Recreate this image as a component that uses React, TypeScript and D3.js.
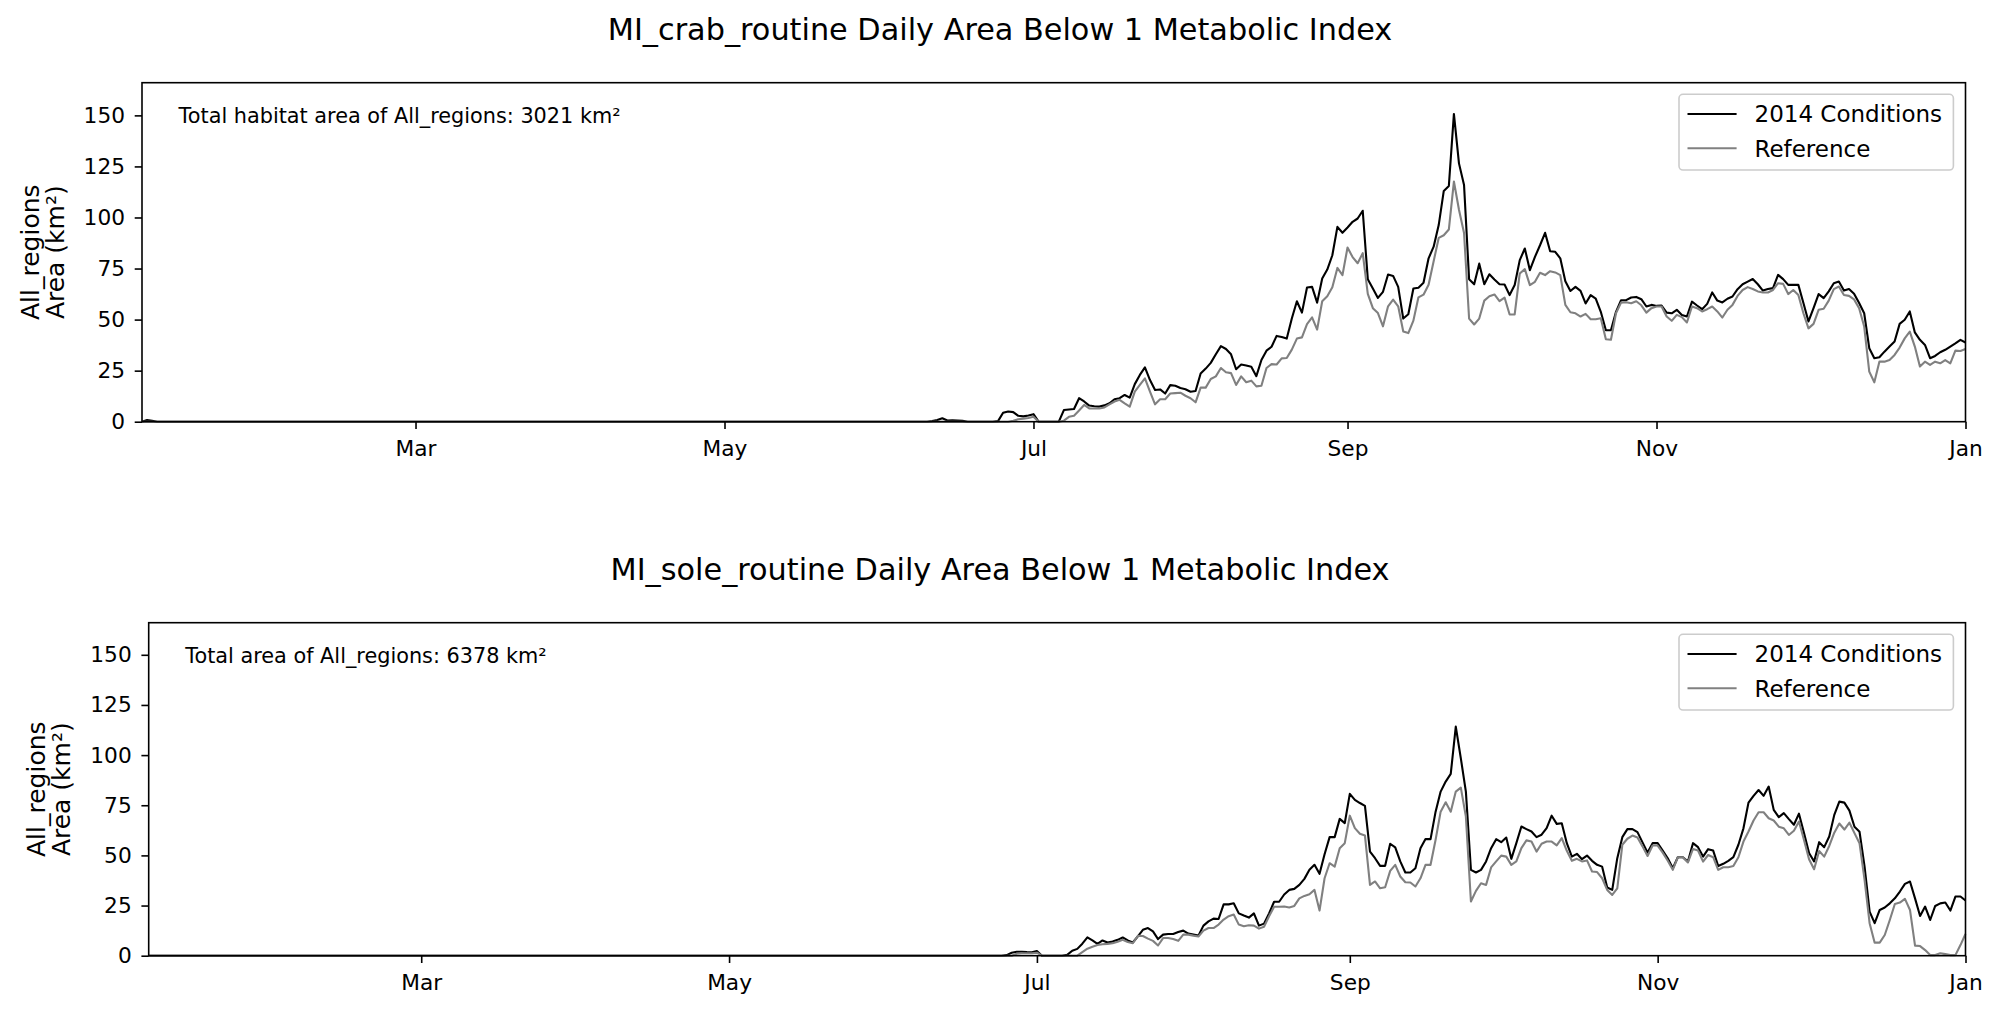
import { useEffect, useRef } from "react";
import * as d3 from "d3";

// daily series start on Jan 6 2014; the long arrays start 150 days later
const firstDay = Date.UTC(2014, 0, 6);
const lastDay = Date.UTC(2015, 0, 1);
const dayMs = 864e5;
const segmentOffset = 150;

const seriesNames = ["2014 Conditions", "Reference"];
const seriesColors = ["#000000", "#808080"];
const yTicks = [0, 25, 50, 75, 100, 125, 150];
const yMax = 166;

// values for the first days of the year (before the flat zero stretch)
const crabLeadIn2014 = [0, 0.8, 0.5, 0];
const crabLeadInRef = [0];
const soleLeadIn2014 = [0];
const soleLeadInRef = [0];

// MI_crab_routine, from day 150 (Jun 5) to Jan 1
const crab2014 = [
  0, 0, 0, 0, 0, 0, 0.3, 0.8, 1.7, 0.6,
  0.7, 0.6, 0.4, 0, 0, 0, 0, 0, 0, 0.3,
  4.4, 5, 4.7, 2.9, 2.6, 3, 3.7, 0, 0, 0,
  0, 0, 5.7, 6, 6.2, 11.5, 9.9, 7.9, 7.6, 7.4,
  8, 9, 11, 11.5, 13.1, 11.8, 18.4, 22.9, 26.6, 20.4,
  15.5, 15.8, 13.8, 17.9, 17.6, 16.5, 15.9, 14.7, 15, 23.6,
  26, 28.8, 33, 37, 35.6, 33, 25.7, 28, 27.5, 26.9,
  22.3, 30.2, 34.8, 36.7, 42, 41.5, 40.7, 50.5, 59, 53.4,
  65.7, 66, 58.3, 70.1, 74.5, 81.5, 95.4, 92.5, 95.1, 97.9,
  99.5, 103.3, 69.8, 65.2, 60.6, 63.6, 72.1, 71.4, 66, 50.5,
  52.6, 65.2, 65.6, 68, 80, 85.7, 96.3, 113, 115.4, 150.7,
  126.5, 115.9, 69.8, 67.3, 77.4, 67.3, 72.2, 69.6, 67.3, 67.2,
  62, 66.9, 79.1, 84.8, 74.2, 80.7, 86.4, 92.5, 83.5, 83.2,
  80, 68.8, 64, 66, 64.1, 57.9, 62, 60.3, 53.8, 44.8,
  44.8, 53.8, 59.5, 59.5, 60.8, 61.1, 60, 56.4, 57.2, 56.7,
  56.9, 53.4, 53.1, 54.8, 52.3, 51.5, 58.8, 56.9, 55.1, 57.7,
  63.3, 59.3, 58.4, 60.2, 61.3, 64.9, 67.3, 68.6, 69.9, 67.3,
  64.2, 65, 65.4, 71.9, 69.8, 67, 67, 67, 58.1, 49.1,
  55.6, 62.5, 60.5, 63.8, 67.8, 68.6, 64.2, 65, 62.7, 58.1,
  53.1, 36, 31.1, 31.6, 34.3, 36.8, 39.3, 47.9, 49.9, 54,
  43.7, 40.1, 37.6, 31.1, 32.2, 34, 35.2, 36.8, 38.4, 40.1,
  38.8,
];

const crabRef = [
  0, 0, 0, 0, 0, 0, 0, 0, 0, 0,
  0, 0, 0, 0, 0, 0, 0, 0, 0, 0,
  0, 0, 0.5, 1.2, 1.5, 1.8, 2.4, 0, 0, 0,
  0, 0, 0.5, 2.4, 2.9, 5.5, 8.2, 6.5, 6.5, 6.5,
  7, 8.5, 9.9, 10.7, 9, 7.4, 14.7, 18, 21.2, 14.7,
  8.5, 11, 11, 13.8, 14, 14.2, 12.7, 11.5, 9.5, 16.7,
  16.7, 20.9, 22.2, 26.3, 24.2, 23.8, 18, 22.2, 19.3, 20.1,
  17.3, 17.6, 26.3, 28.2, 28, 31, 31.2, 35.3, 40.7, 41.3,
  47.8, 51.1, 45.1, 59, 61.4, 65.8, 75.3, 71.8, 85.3, 80.6,
  77.6, 82.5, 62.6, 55.6, 53.2, 46.7, 56.5, 59.8, 56.5, 44.2,
  43.4, 49.5, 60.9, 62.2, 67.1, 78.6, 90, 91.3, 94.1, 117.6,
  103.8, 92.4, 50.5, 47.6, 50.5, 59.3, 61.4, 62.3, 59, 60.8,
  52.5, 52.5, 72.6, 74.7, 66.9, 68.5, 72.9, 71.8, 73.7, 73.1,
  71.8, 57.2, 53.6, 53.1, 51.5, 52.8, 50.2, 50.2, 50.7, 40.4,
  40.1, 53.1, 58.3, 58.5, 58, 59, 57, 53.4, 55.6, 56.4,
  56.4, 51.5, 49.4, 52.3, 51.2, 48.6, 56.4, 55.6, 54, 55.1,
  56.4, 54, 51, 54.8, 57.2, 61.6, 64.5, 65.9, 65, 63.8,
  63.3, 63.3, 64.5, 67.8, 67.5, 62.5, 64.5, 62, 53.1, 45.7,
  47.9, 54.8, 55.3, 59.3, 64.9, 66.2, 62, 61.6, 59.9, 55.6,
  46.6, 24.5, 19.3, 29.4, 29.4, 30.2, 32.7, 36.3, 40.8, 44.1,
  36.8, 27, 29.4, 27.8, 29.4, 28.6, 30.2, 28.6, 34.8, 34.6,
  35.6,
];

// MI_sole_routine, from day 150 (Jun 5) to Jan 1
const sole2014 = [
  0, 0, 0, 0, 0, 0, 0, 0, 0, 0,
  0, 0, 0, 0, 0, 0, 0, 0, 0, 0,
  0.3, 1.5, 2, 2, 1.8, 1.7, 2.3, 0, 0, 0,
  0, 0, 0.4, 2.5, 3.4, 6, 9.1, 7.6, 5.9, 7.6,
  6.6, 7.1, 7.9, 9.1, 7.6, 6.6, 9.6, 12.9, 13.8, 12.1,
  8.3, 10.5, 10.8, 10.8, 11.8, 12.5, 11, 10.5, 10, 15,
  17.1, 18.5, 18.3, 25.6, 25.6, 26.1, 21.1, 20, 19, 21.1,
  15, 16, 21.1, 26.9, 26.9, 30.5, 32.8, 33.3, 35.3, 38.3,
  42.8, 45.3, 40.8, 50.6, 59.1, 59.1, 68.2, 66.1, 80.7, 77.7,
  76.1, 74.7, 51.9, 48.6, 44.8, 44.8, 55.8, 54, 47, 41.5,
  41.5, 43.6, 53.6, 58.2, 58.1, 71.8, 81.8, 86.8, 90.6, 114.2,
  98.4, 81.8, 42.8, 41.5, 42.8, 47, 53.6, 58.1, 56.6, 58.9,
  48.3, 56.1, 64.4, 63.1, 61.9, 59.1, 60.3, 63.6, 69.8, 65.7,
  66, 56.1, 49.4, 50.8, 48.1, 49.9, 47.3, 45.3, 44.4, 34,
  32.8, 48.6, 59.1, 63.1, 63.1, 61.6, 56.5, 51.4, 56.1, 56.1,
  52.4, 48.6, 43.6, 49.1, 49.1, 46.9, 56.1, 54.1, 49.4, 53.1,
  52.4, 44.7, 45.8, 47.3, 49.1, 55.3, 63.5, 76.3, 79.7, 82.6,
  79.7, 84.3, 72.7, 69.1, 71.1, 68.1, 65.3, 70.8, 61.1, 51.2,
  47, 56.6, 54.1, 59.4, 70.2, 76.8, 76.3, 72.3, 64.3, 61.8,
  44.4, 22, 16.2, 22.8, 24, 26.1, 28.6, 32, 35.8, 37,
  28.6, 19.8, 24.5, 17.8, 24.8, 26.1, 26.5, 22.5, 29.5, 29.5,
  27.5,
];

const soleRef = [
  0, 0, 0, 0, 0, 0, 0, 0, 0, 0,
  0, 0, 0, 0, 0, 0, 0, 0, 0, 0,
  0, 0, 1, 1.2, 1.2, 1.2, 1.5, 0, 0, 0,
  0, 0, 0, 0, 0, 1.8, 3.5, 4.5, 5.3, 5.7,
  5.9, 6.2, 7, 7.9, 6.8, 6.2, 9.9, 9.8, 8.5, 7.4,
  5.1, 8.8, 8.8, 8.3, 7.4, 10.5, 10.5, 10, 9.6, 12.5,
  13.8, 13.8, 15.5, 18, 19.7, 20.5, 15.5, 14.7, 15.2, 15,
  13.5, 14.4, 19.7, 24.4, 24.4, 24.5, 24, 24.8, 28.6, 29.8,
  30.6, 32.8, 22.5, 38.6, 46.1, 44.4, 53.6, 56.1, 69.8, 63.6,
  60.8, 59.9, 35.3, 37, 33.6, 34.1, 42.3, 45.3, 39.5, 36.6,
  36.5, 34.5, 38.6, 45.3, 45.3, 57.8, 71.8, 76.5, 71.8, 81.8,
  83.8, 69.3, 27, 32.3, 36.1, 35.3, 44, 47, 49.9, 49.4,
  45.3, 47, 53.6, 57.5, 56.9, 51.9, 55.8, 56.9, 56.9, 55,
  58.6, 52.3, 47.3, 48.3, 47, 47.5, 42, 41.7, 38.6, 32.8,
  30.3, 33.6, 55.3, 58.3, 59.9, 58.9, 54.5, 49.7, 54.9, 54.9,
  51.4, 47.3, 42.8, 49.1, 49.1, 46.5, 53.2, 52.4, 46.9, 50.2,
  49.1, 42.8, 44.1, 44.1, 44.7, 49.1, 56.9, 61.9, 67.4, 71.5,
  71.5, 68.5, 67.4, 64.3, 63.5, 60.2, 62.3, 66.9, 57.7, 48.1,
  43.1, 52.2, 49.4, 54.7, 61.3, 65.9, 62.9, 66.3, 61.1, 56.1,
  37.8, 16.2, 6.5, 6.5, 10.3, 17.8, 25.8, 26.5, 28.3, 22.8,
  5, 4.8, 2.8, 0.3, 0.3, 1.2, 0.8, 0.3, 0.3, 5.3,
  10.8,
];

const panels = [
  {
    title: "MI_crab_routine Daily Area Below 1 Metabolic Index",
    note: "Total habitat area of All_regions: 3021 km²",
    leadIns: [crabLeadIn2014, crabLeadInRef],
    series: [crab2014, crabRef],
    left: 142,
    right: 1965.5,
    top: 82.7,
    bottom: 421.7,
    labelX: [38.5, 63.5],
  },
  {
    title: "MI_sole_routine Daily Area Below 1 Metabolic Index",
    note: "Total area of All_regions: 6378 km²",
    leadIns: [soleLeadIn2014, soleLeadInRef],
    series: [sole2014, soleRef],
    left: 148.7,
    right: 1965.5,
    top: 622.7,
    bottom: 955.7,
    labelX: [45, 70],
  },
];

type Panel = (typeof panels)[number];

function toPoints(lead: number[], values: number[]): [Date, number][] {
  const pts: [Date, number][] = lead.map((v, i) => [new Date(firstDay + i * dayMs), v]);
  values.forEach((v, i) => pts.push([new Date(firstDay + (segmentOffset + i) * dayMs), v]));
  return pts;
}

function drawPanel(svg: d3.Selection<SVGSVGElement, unknown, null, undefined>, p: Panel) {
  const x = d3
    .scaleUtc()
    .domain([new Date(firstDay), new Date(lastDay)])
    .range([p.left, p.right]);
  const y = d3.scaleLinear().domain([0, yMax]).range([p.bottom, p.top]);

  const g = svg.append("g");

  // title
  g.append("text")
    .attr("x", 1000)
    .attr("y", p.top - 43)
    .attr("text-anchor", "middle")
    .attr("font-size", 30.3)
    .attr("fill", "#000")
    .text(p.title);

  // lines
  const line = d3
    .line<[Date, number]>()
    .x((d) => x(d[0]))
    .y((d) => y(d[1]));

  p.series.forEach((vals, i) => {
    g.append("path")
      .datum(toPoints(p.leadIns[i], vals))
      .attr("d", line)
      .attr("fill", "none")
      .attr("stroke", seriesColors[i])
      .attr("stroke-width", 2.1)
      .attr("stroke-linejoin", "round");
  });

  // X axis
  g.append("g")
    .attr("transform", `translate(0,${p.bottom})`)
    .call(
      d3
        .axisBottom(x)
        .ticks(d3.utcMonth.every(2))
        .tickFormat((d) => d3.utcFormat("%b")(d as Date))
        .tickSize(7.3)
        .tickPadding(11.3)
    )
    .call((a) => a.select(".domain").remove())
    .call((a) => a.selectAll(".tick line").attr("stroke", "#000").attr("stroke-width", 1.6))
    .call((a) =>
      a
        .selectAll(".tick text")
        .attr("fill", "#000")
        .attr("font-size", 21.7)
        .attr("font-family", "DejaVu Sans")
    );

  // Y axis
  g.append("g")
    .attr("transform", `translate(${p.left},0)`)
    .call(d3.axisLeft(y).tickValues(yTicks).tickSize(7.3).tickPadding(9.7))
    .call((a) => a.select(".domain").remove())
    .call((a) => a.selectAll(".tick line").attr("stroke", "#000").attr("stroke-width", 1.6))
    .call((a) =>
      a
        .selectAll(".tick text")
        .attr("fill", "#000")
        .attr("font-size", 21.7)
        .attr("font-family", "DejaVu Sans")
    );

  // frame
  g.append("rect")
    .attr("x", p.left)
    .attr("y", p.top)
    .attr("width", p.right - p.left)
    .attr("height", p.bottom - p.top)
    .attr("fill", "none")
    .attr("stroke", "#000")
    .attr("stroke-width", 1.6);

  // y label, two lines
  const midY = (p.top + p.bottom) / 2;
  ["All_regions", "Area (km²)"].forEach((t, i) => {
    g.append("text")
      .attr("transform", `translate(${p.labelX[i]},${midY}) rotate(-90)`)
      .attr("text-anchor", "middle")
      .attr("font-size", 25)
      .attr("fill", "#000")
      .text(t);
  });

  // note in the corner
  g.append("text")
    .attr("x", p.left + 36.6)
    .attr("y", p.top + 40.5)
    .attr("font-size", 20.8)
    .attr("fill", "#000")
    .text(p.note);

  // legend
  const lx = 1679;
  const ly = p.top + 11.6;
  g.append("rect")
    .attr("x", lx)
    .attr("y", ly)
    .attr("width", 274.4)
    .attr("height", 75.7)
    .attr("rx", 4)
    .attr("fill", "#fff")
    .attr("fill-opacity", 0.8)
    .attr("stroke", "#cccccc")
    .attr("stroke-width", 1.6);

  seriesNames.forEach((name, i) => {
    const yy = ly + 19.7 + i * 34.3;
    g.append("line")
      .attr("x1", lx + 8.5)
      .attr("x2", lx + 57.6)
      .attr("y1", yy)
      .attr("y2", yy)
      .attr("stroke", seriesColors[i])
      .attr("stroke-width", 2.1);
    g.append("text")
      .attr("x", lx + 75.5)
      .attr("y", yy + 8.4)
      .attr("font-size", 23)
      .attr("fill", "#000")
      .text(name);
  });
}

export default function App() {
  const svgRef = useRef<SVGSVGElement>(null);

  useEffect(() => {
    if (!svgRef.current) return;
    const svg = d3.select(svgRef.current);
    svg.selectAll("*").remove();
    panels.forEach((p) => drawPanel(svg, p));
  }, []);

  return (
    <svg
      ref={svgRef}
      width={2000}
      height={1015}
      fontFamily="DejaVu Sans"
      style={{ position: "absolute", left: 0, top: 0, background: "#fff" }}
    />
  );
}
